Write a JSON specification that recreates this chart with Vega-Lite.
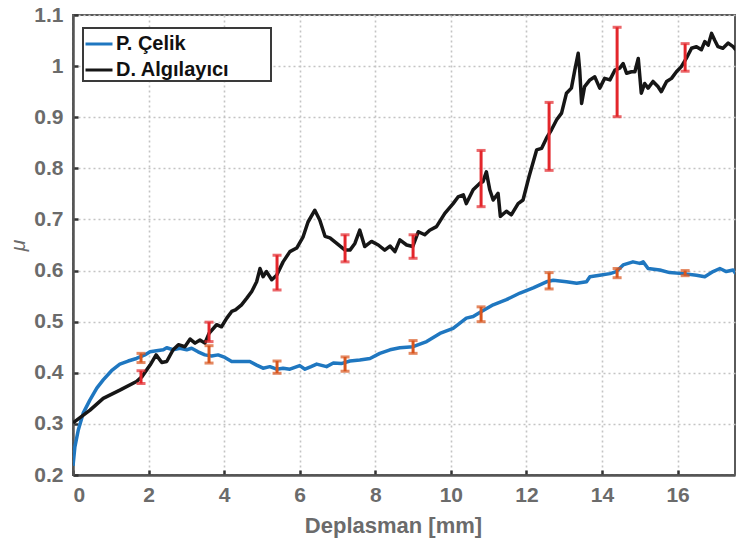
{
  "$schema": "https://vega.github.io/schema/vega-lite/v6.json",
  "width": 662,
  "height": 460,
  "autosize": {"type": "none"},
  "padding": {"left": 73, "top": 15, "right": 1, "bottom": 72},
  "background": "white",
  "config": {
    "view": {"stroke": "#5a5a5a", "strokeWidth": 2},
    "font": "Liberation Sans",
    "legend": {"strokeWidth": 2},
    "axis": {
      "labelFont": "Liberation Sans",
      "labelFontWeight": "bold",
      "labelFontSize": 21,
      "labelColor": "#6b6b6b",
      "titleFont": "Liberation Sans",
      "titleColor": "#6b6b6b",
      "domainColor": "#555555",
      "domainWidth": 2.5,
      "tickColor": "#333333",
      "tickWidth": 2.5,
      "tickSize": -5,
      "gridColor": "#c4c4c4",
      "gridDash": [2, 3],
      "gridWidth": 1.6
    }
  },
  "datasets": {
    "lines": [
      {"series": "P. Çelik", "x": 0.0, "y": 0.218},
      {"series": "P. Çelik", "x": 0.05, "y": 0.255},
      {"series": "P. Çelik", "x": 0.14, "y": 0.288},
      {"series": "P. Çelik", "x": 0.27, "y": 0.321},
      {"series": "P. Çelik", "x": 0.45, "y": 0.347},
      {"series": "P. Çelik", "x": 0.63, "y": 0.370},
      {"series": "P. Çelik", "x": 0.8, "y": 0.386},
      {"series": "P. Çelik", "x": 1.02, "y": 0.404},
      {"series": "P. Çelik", "x": 1.24, "y": 0.417},
      {"series": "P. Çelik", "x": 1.46, "y": 0.423},
      {"series": "P. Çelik", "x": 1.68, "y": 0.428},
      {"series": "P. Çelik", "x": 1.9, "y": 0.435},
      {"series": "P. Çelik", "x": 2.04, "y": 0.441},
      {"series": "P. Çelik", "x": 2.21, "y": 0.443},
      {"series": "P. Çelik", "x": 2.39, "y": 0.445},
      {"series": "P. Çelik", "x": 2.48, "y": 0.449},
      {"series": "P. Çelik", "x": 2.65, "y": 0.445},
      {"series": "P. Çelik", "x": 2.83, "y": 0.448},
      {"series": "P. Çelik", "x": 3.01, "y": 0.445},
      {"series": "P. Çelik", "x": 3.14, "y": 0.448},
      {"series": "P. Çelik", "x": 3.31, "y": 0.441},
      {"series": "P. Çelik", "x": 3.49, "y": 0.435},
      {"series": "P. Çelik", "x": 3.67, "y": 0.433},
      {"series": "P. Çelik", "x": 3.84, "y": 0.435},
      {"series": "P. Çelik", "x": 4.02, "y": 0.430},
      {"series": "P. Çelik", "x": 4.2, "y": 0.422},
      {"series": "P. Çelik", "x": 4.42, "y": 0.422},
      {"series": "P. Çelik", "x": 4.68, "y": 0.422},
      {"series": "P. Çelik", "x": 4.86, "y": 0.415},
      {"series": "P. Çelik", "x": 5.03, "y": 0.409},
      {"series": "P. Çelik", "x": 5.21, "y": 0.412},
      {"series": "P. Çelik", "x": 5.39, "y": 0.407},
      {"series": "P. Çelik", "x": 5.56, "y": 0.409},
      {"series": "P. Çelik", "x": 5.74, "y": 0.407},
      {"series": "P. Çelik", "x": 6.0, "y": 0.414},
      {"series": "P. Çelik", "x": 6.14, "y": 0.407},
      {"series": "P. Çelik", "x": 6.3, "y": 0.412},
      {"series": "P. Çelik", "x": 6.45, "y": 0.417},
      {"series": "P. Çelik", "x": 6.71, "y": 0.412},
      {"series": "P. Çelik", "x": 6.89, "y": 0.419},
      {"series": "P. Çelik", "x": 7.1, "y": 0.418},
      {"series": "P. Çelik", "x": 7.33, "y": 0.423},
      {"series": "P. Çelik", "x": 7.59, "y": 0.425},
      {"series": "P. Çelik", "x": 7.86, "y": 0.428},
      {"series": "P. Çelik", "x": 8.12, "y": 0.438},
      {"series": "P. Çelik", "x": 8.39, "y": 0.445},
      {"series": "P. Çelik", "x": 8.65, "y": 0.449},
      {"series": "P. Çelik", "x": 9.0, "y": 0.451},
      {"series": "P. Çelik", "x": 9.36, "y": 0.461},
      {"series": "P. Çelik", "x": 9.71, "y": 0.477},
      {"series": "P. Çelik", "x": 10.06, "y": 0.487},
      {"series": "P. Çelik", "x": 10.41, "y": 0.507},
      {"series": "P. Çelik", "x": 10.59, "y": 0.510},
      {"series": "P. Çelik", "x": 10.81, "y": 0.520},
      {"series": "P. Çelik", "x": 11.12, "y": 0.533},
      {"series": "P. Çelik", "x": 11.47, "y": 0.543},
      {"series": "P. Çelik", "x": 11.83, "y": 0.556},
      {"series": "P. Çelik", "x": 12.18, "y": 0.566},
      {"series": "P. Çelik", "x": 12.53, "y": 0.578},
      {"series": "P. Çelik", "x": 12.71, "y": 0.581},
      {"series": "P. Çelik", "x": 13.06, "y": 0.578},
      {"series": "P. Çelik", "x": 13.33, "y": 0.575},
      {"series": "P. Çelik", "x": 13.59, "y": 0.578},
      {"series": "P. Çelik", "x": 13.68, "y": 0.588},
      {"series": "P. Çelik", "x": 13.94, "y": 0.591},
      {"series": "P. Çelik", "x": 14.21, "y": 0.594},
      {"series": "P. Çelik", "x": 14.38, "y": 0.598},
      {"series": "P. Çelik", "x": 14.56, "y": 0.611},
      {"series": "P. Çelik", "x": 14.82, "y": 0.617},
      {"series": "P. Çelik", "x": 15.0, "y": 0.614},
      {"series": "P. Çelik", "x": 15.09, "y": 0.617},
      {"series": "P. Çelik", "x": 15.22, "y": 0.604},
      {"series": "P. Çelik", "x": 15.53, "y": 0.601},
      {"series": "P. Çelik", "x": 15.79, "y": 0.596},
      {"series": "P. Çelik", "x": 16.15, "y": 0.594},
      {"series": "P. Çelik", "x": 16.5, "y": 0.591},
      {"series": "P. Çelik", "x": 16.72, "y": 0.588},
      {"series": "P. Çelik", "x": 16.94, "y": 0.598},
      {"series": "P. Çelik", "x": 17.12, "y": 0.604},
      {"series": "P. Çelik", "x": 17.29, "y": 0.598},
      {"series": "P. Çelik", "x": 17.47, "y": 0.601},
      {"series": "P. Çelik", "x": 17.54, "y": 0.594},
      {"series": "D. Algılayıcı", "x": 0.0, "y": 0.302},
      {"series": "D. Algılayıcı", "x": 0.45, "y": 0.327},
      {"series": "D. Algılayıcı", "x": 0.8, "y": 0.350},
      {"series": "D. Algılayıcı", "x": 1.24, "y": 0.366},
      {"series": "D. Algılayıcı", "x": 1.68, "y": 0.383},
      {"series": "D. Algılayıcı", "x": 1.82, "y": 0.392},
      {"series": "D. Algılayıcı", "x": 2.04, "y": 0.415},
      {"series": "D. Algılayıcı", "x": 2.2, "y": 0.435},
      {"series": "D. Algılayıcı", "x": 2.35, "y": 0.420},
      {"series": "D. Algılayıcı", "x": 2.48, "y": 0.422},
      {"series": "D. Algılayıcı", "x": 2.65, "y": 0.445},
      {"series": "D. Algılayıcı", "x": 2.79, "y": 0.455},
      {"series": "D. Algılayıcı", "x": 2.96, "y": 0.451},
      {"series": "D. Algılayıcı", "x": 3.1, "y": 0.466},
      {"series": "D. Algılayıcı", "x": 3.23, "y": 0.458},
      {"series": "D. Algılayıcı", "x": 3.36, "y": 0.464},
      {"series": "D. Algılayıcı", "x": 3.49, "y": 0.458},
      {"series": "D. Algılayıcı", "x": 3.6, "y": 0.477},
      {"series": "D. Algılayıcı", "x": 3.8, "y": 0.494},
      {"series": "D. Algılayıcı", "x": 3.93, "y": 0.490},
      {"series": "D. Algılayıcı", "x": 4.07, "y": 0.507},
      {"series": "D. Algılayıcı", "x": 4.2, "y": 0.520},
      {"series": "D. Algılayıcı", "x": 4.3, "y": 0.523},
      {"series": "D. Algılayıcı", "x": 4.46, "y": 0.533},
      {"series": "D. Algılayıcı", "x": 4.6, "y": 0.546},
      {"series": "D. Algılayıcı", "x": 4.73, "y": 0.559},
      {"series": "D. Algılayıcı", "x": 4.86, "y": 0.578},
      {"series": "D. Algılayıcı", "x": 4.95, "y": 0.604},
      {"series": "D. Algılayıcı", "x": 5.03, "y": 0.588},
      {"series": "D. Algılayıcı", "x": 5.12, "y": 0.598},
      {"series": "D. Algılayıcı", "x": 5.26, "y": 0.582},
      {"series": "D. Algılayıcı", "x": 5.39, "y": 0.591},
      {"series": "D. Algılayıcı", "x": 5.56, "y": 0.617},
      {"series": "D. Algılayıcı", "x": 5.74, "y": 0.637},
      {"series": "D. Algılayıcı", "x": 5.92, "y": 0.644},
      {"series": "D. Algılayıcı", "x": 6.09, "y": 0.666},
      {"series": "D. Algılayıcı", "x": 6.22, "y": 0.695},
      {"series": "D. Algılayıcı", "x": 6.4, "y": 0.718},
      {"series": "D. Algılayıcı", "x": 6.53, "y": 0.699},
      {"series": "D. Algılayıcı", "x": 6.67, "y": 0.667},
      {"series": "D. Algılayıcı", "x": 6.8, "y": 0.664},
      {"series": "D. Algılayıcı", "x": 6.98, "y": 0.653},
      {"series": "D. Algılayıcı", "x": 7.2, "y": 0.640},
      {"series": "D. Algılayıcı", "x": 7.33, "y": 0.640},
      {"series": "D. Algılayıcı", "x": 7.46, "y": 0.653},
      {"series": "D. Algılayıcı", "x": 7.59, "y": 0.679},
      {"series": "D. Algılayıcı", "x": 7.72, "y": 0.647},
      {"series": "D. Algılayıcı", "x": 7.9, "y": 0.657},
      {"series": "D. Algılayıcı", "x": 8.08, "y": 0.650},
      {"series": "D. Algılayıcı", "x": 8.25, "y": 0.640},
      {"series": "D. Algılayıcı", "x": 8.39, "y": 0.648},
      {"series": "D. Algılayıcı", "x": 8.52, "y": 0.637},
      {"series": "D. Algılayıcı", "x": 8.65, "y": 0.660},
      {"series": "D. Algılayıcı", "x": 8.83, "y": 0.650},
      {"series": "D. Algılayıcı", "x": 8.99, "y": 0.647},
      {"series": "D. Algılayıcı", "x": 9.14, "y": 0.676},
      {"series": "D. Algılayıcı", "x": 9.31, "y": 0.670},
      {"series": "D. Algılayıcı", "x": 9.44, "y": 0.679},
      {"series": "D. Algılayıcı", "x": 9.62, "y": 0.686},
      {"series": "D. Algılayıcı", "x": 9.84, "y": 0.712},
      {"series": "D. Algılayıcı", "x": 10.06, "y": 0.731},
      {"series": "D. Algılayıcı", "x": 10.19, "y": 0.744},
      {"series": "D. Algılayıcı", "x": 10.33, "y": 0.748},
      {"series": "D. Algılayıcı", "x": 10.41, "y": 0.731},
      {"series": "D. Algılayıcı", "x": 10.59, "y": 0.758},
      {"series": "D. Algılayıcı", "x": 10.77, "y": 0.771},
      {"series": "D. Algılayıcı", "x": 10.85, "y": 0.774},
      {"series": "D. Algılayıcı", "x": 10.94, "y": 0.793},
      {"series": "D. Algılayıcı", "x": 11.03, "y": 0.758},
      {"series": "D. Algılayıcı", "x": 11.12, "y": 0.738},
      {"series": "D. Algılayıcı", "x": 11.25, "y": 0.751},
      {"series": "D. Algılayıcı", "x": 11.31, "y": 0.706},
      {"series": "D. Algılayıcı", "x": 11.47, "y": 0.716},
      {"series": "D. Algılayıcı", "x": 11.6, "y": 0.709},
      {"series": "D. Algılayıcı", "x": 11.78, "y": 0.731},
      {"series": "D. Algılayıcı", "x": 11.91, "y": 0.738},
      {"series": "D. Algılayıcı", "x": 12.07, "y": 0.784},
      {"series": "D. Algılayıcı", "x": 12.27, "y": 0.836},
      {"series": "D. Algılayıcı", "x": 12.4, "y": 0.839},
      {"series": "D. Algılayıcı", "x": 12.53, "y": 0.859},
      {"series": "D. Algılayıcı", "x": 12.66, "y": 0.875},
      {"series": "D. Algılayıcı", "x": 12.8, "y": 0.895},
      {"series": "D. Algılayıcı", "x": 12.93, "y": 0.908},
      {"series": "D. Algılayıcı", "x": 13.06, "y": 0.947},
      {"series": "D. Algılayıcı", "x": 13.19, "y": 0.957},
      {"series": "D. Algılayıcı", "x": 13.28, "y": 0.992},
      {"series": "D. Algılayıcı", "x": 13.37, "y": 1.025},
      {"series": "D. Algılayıcı", "x": 13.41, "y": 0.992},
      {"series": "D. Algılayıcı", "x": 13.46, "y": 0.927},
      {"series": "D. Algılayıcı", "x": 13.54, "y": 0.960},
      {"series": "D. Algılayıcı", "x": 13.68, "y": 0.973},
      {"series": "D. Algılayıcı", "x": 13.81, "y": 0.979},
      {"series": "D. Algılayıcı", "x": 13.94, "y": 0.957},
      {"series": "D. Algılayıcı", "x": 14.07, "y": 0.976},
      {"series": "D. Algılayıcı", "x": 14.21, "y": 0.973},
      {"series": "D. Algılayıcı", "x": 14.34, "y": 0.992},
      {"series": "D. Algılayıcı", "x": 14.47, "y": 0.996},
      {"series": "D. Algılayıcı", "x": 14.56, "y": 1.005},
      {"series": "D. Algılayıcı", "x": 14.65, "y": 0.986},
      {"series": "D. Algılayıcı", "x": 14.78, "y": 0.989},
      {"series": "D. Algılayıcı", "x": 14.87, "y": 0.989},
      {"series": "D. Algılayıcı", "x": 14.96, "y": 1.015},
      {"series": "D. Algılayıcı", "x": 15.04, "y": 0.947},
      {"series": "D. Algılayıcı", "x": 15.13, "y": 0.966},
      {"series": "D. Algılayıcı", "x": 15.22, "y": 0.957},
      {"series": "D. Algılayıcı", "x": 15.35, "y": 0.970},
      {"series": "D. Algılayıcı", "x": 15.48, "y": 0.960},
      {"series": "D. Algılayıcı", "x": 15.57, "y": 0.950},
      {"series": "D. Algılayıcı", "x": 15.71, "y": 0.970},
      {"series": "D. Algılayıcı", "x": 15.84, "y": 0.976},
      {"series": "D. Algılayıcı", "x": 15.97, "y": 0.989},
      {"series": "D. Algılayıcı", "x": 16.1, "y": 0.999},
      {"series": "D. Algılayıcı", "x": 16.23, "y": 1.015},
      {"series": "D. Algılayıcı", "x": 16.37, "y": 1.035},
      {"series": "D. Algılayıcı", "x": 16.5, "y": 1.038},
      {"series": "D. Algılayıcı", "x": 16.63, "y": 1.032},
      {"series": "D. Algılayıcı", "x": 16.72, "y": 1.048},
      {"series": "D. Algılayıcı", "x": 16.81, "y": 1.041},
      {"series": "D. Algılayıcı", "x": 16.9, "y": 1.064},
      {"series": "D. Algılayıcı", "x": 16.98, "y": 1.051},
      {"series": "D. Algılayıcı", "x": 17.07, "y": 1.038},
      {"series": "D. Algılayıcı", "x": 17.2, "y": 1.035},
      {"series": "D. Algılayıcı", "x": 17.34, "y": 1.045},
      {"series": "D. Algılayıcı", "x": 17.47, "y": 1.038},
      {"series": "D. Algılayıcı", "x": 17.54, "y": 1.032}
    ],
    "errD": [
      {"x": 1.8, "lo": 0.379, "hi": 0.404},
      {"x": 3.6, "lo": 0.461, "hi": 0.499},
      {"x": 5.4, "lo": 0.562, "hi": 0.630},
      {"x": 7.2, "lo": 0.617, "hi": 0.670},
      {"x": 9.0, "lo": 0.624, "hi": 0.670},
      {"x": 10.8, "lo": 0.725, "hi": 0.835},
      {"x": 12.6, "lo": 0.796, "hi": 0.929},
      {"x": 14.4, "lo": 0.901, "hi": 1.076},
      {"x": 16.2, "lo": 0.990, "hi": 1.044}
    ],
    "errP": [
      {"x": 1.8, "lo": 0.420, "hi": 0.438},
      {"x": 3.6, "lo": 0.419, "hi": 0.453},
      {"x": 5.4, "lo": 0.399, "hi": 0.423},
      {"x": 7.2, "lo": 0.403, "hi": 0.431},
      {"x": 9.0, "lo": 0.438, "hi": 0.463},
      {"x": 10.8, "lo": 0.500, "hi": 0.529},
      {"x": 12.6, "lo": 0.564, "hi": 0.596},
      {"x": 14.4, "lo": 0.586, "hi": 0.604},
      {"x": 16.2, "lo": 0.590, "hi": 0.600}
    ]
  },
  "layer": [
    {
      "data": {"name": "lines"},
      "mark": {"type": "line", "strokeWidth": 3.5, "clip": true, "strokeJoin": "round"},
      "encoding": {
        "x": {
          "field": "x", "type": "quantitative",
          "scale": {"domain": [0, 17.52], "nice": false, "zero": false},
          "axis": {
            "values": [0, 2, 4, 6, 8, 10, 12, 14, 16],
            "title": "Deplasman [mm]",
            "titleFontSize": 22,
            "titleFontWeight": "bold",
            "titlePadding": 10,
            "titleX": 320,
            "labelPadding": 14,
            "grid": true
          }
        },
        "y": {
          "field": "y", "type": "quantitative",
          "scale": {"domain": [0.2, 1.1], "nice": false, "zero": false},
          "axis": {
            "values": [0.2, 0.3, 0.4, 0.5, 0.6, 0.7, 0.8, 0.9, 1.0, 1.1],
            "format": ".1~f",
            "title": "μ",
            "titleFontSize": 21,
            "titleFontStyle": "italic",
            "titleFontWeight": "normal",
            "titleX": -45,
            "titleY": 230,
            "labelPadding": 15,
            "grid": true
          }
        },
        "color": {
          "field": "series", "type": "nominal",
          "scale": {"domain": ["P. Çelik", "D. Algılayıcı"], "range": ["#1f77c0", "#161616"]},
          "legend": {
            "title": null,
            "orient": "none",
            "legendX": 10,
            "legendY": 13,
            "fillColor": "white",
            "strokeColor": "#3a3a3a",
            "padding": 1,
            "symbolType": "stroke",
            "symbolSize": 729,
            "symbolStrokeWidth": 3,
            "labelFont": "Liberation Sans",
            "labelFontSize": 20,
            "labelFontWeight": "bold",
            "labelColor": "#111111",
            "labelOffset": 2,
            "labelExpr": "datum.label + '\u2003\u2003\u200b'",
            "labelLimit": 400,
            "rowPadding": 1
          }
        }
      }
    },
    {
      "data": {"name": "errD"},
      "mark": {"type": "rule", "strokeWidth": 3, "color": "#e3262b"},
      "encoding": {
        "x": {"field": "x", "type": "quantitative"},
        "y": {"field": "lo", "type": "quantitative"},
        "y2": {"field": "hi"}
      }
    },
    {
      "data": {"name": "errD"},
      "mark": {"type": "tick", "orient": "horizontal", "thickness": 3, "size": 9, "color": "#e3262b"},
      "encoding": {
        "x": {"field": "x", "type": "quantitative"},
        "y": {"field": "lo", "type": "quantitative"}
      }
    },
    {
      "data": {"name": "errD"},
      "mark": {"type": "tick", "orient": "horizontal", "thickness": 3, "size": 9, "color": "#e3262b"},
      "encoding": {
        "x": {"field": "x", "type": "quantitative"},
        "y": {"field": "hi", "type": "quantitative"}
      }
    },
    {
      "data": {"name": "errP"},
      "mark": {"type": "rule", "strokeWidth": 3, "color": "#d9561e"},
      "encoding": {
        "x": {"field": "x", "type": "quantitative"},
        "y": {"field": "lo", "type": "quantitative"},
        "y2": {"field": "hi"}
      }
    },
    {
      "data": {"name": "errP"},
      "mark": {"type": "tick", "orient": "horizontal", "thickness": 3, "size": 9, "color": "#d9561e"},
      "encoding": {
        "x": {"field": "x", "type": "quantitative"},
        "y": {"field": "lo", "type": "quantitative"}
      }
    },
    {
      "data": {"name": "errP"},
      "mark": {"type": "tick", "orient": "horizontal", "thickness": 3, "size": 9, "color": "#d9561e"},
      "encoding": {
        "x": {"field": "x", "type": "quantitative"},
        "y": {"field": "hi", "type": "quantitative"}
      }
    }
  ]
}
